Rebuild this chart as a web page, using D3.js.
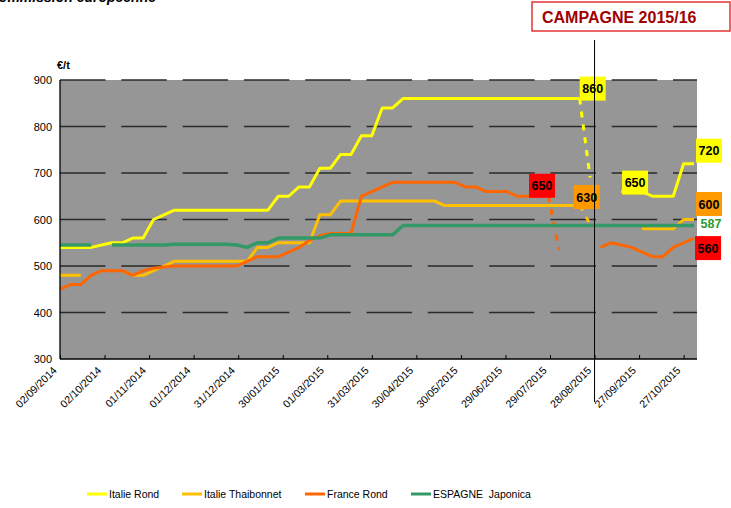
<!DOCTYPE html>
<html>
<head>
<meta charset="utf-8">
<script src="https://cdn.jsdelivr.net/npm/d3@7"></script>
<style>
  body { margin: 0; background: #fff; }
  svg { font-family: "Liberation Sans", Arial, sans-serif; display: block; }
</style>
</head>
<body>
<div id="chart"></div>
<script>
// weekly quotations, €/t
const dates = [
  "02/09/2014","09/09/2014","16/09/2014","23/09/2014","30/09/2014","07/10/2014","14/10/2014","21/10/2014",
  "28/10/2014","04/11/2014","11/11/2014","18/11/2014","25/11/2014","02/12/2014","09/12/2014","16/12/2014",
  "23/12/2014","30/12/2014","06/01/2015","13/01/2015","20/01/2015","27/01/2015","03/02/2015","10/02/2015",
  "17/02/2015","24/02/2015","03/03/2015","10/03/2015","17/03/2015","24/03/2015","31/03/2015","07/04/2015",
  "14/04/2015","21/04/2015","28/04/2015","05/05/2015","12/05/2015","19/05/2015","26/05/2015","02/06/2015",
  "09/06/2015","16/06/2015","23/06/2015","30/06/2015","07/07/2015","14/07/2015","21/07/2015","28/07/2015",
  "04/08/2015","11/08/2015","18/08/2015","25/08/2015","01/09/2015","08/09/2015","15/09/2015","22/09/2015",
  "29/09/2015","06/10/2015","13/10/2015","20/10/2015","27/10/2015","03/11/2015"
];

const italieRond = [
  540,540,540,540,545,550,550,560, 560,600,610,620,620,620,620,620,
  620,620,620,620,620,650,650,670, 670,710,710,740,740,780,780,840,
  840,860,860,860,860,860,860,860, 860,860,860,860,860,860,860,860,
  860,860,860,690,null,null,660,660, 660,650,650,650,720,720
];
const italieThai = [
  480,480,480,null,null,null,490,480, 480,490,500,510,510,510,510,510,
  510,510,510,540,540,550,550,550, 550,610,610,640,640,640,640,640,
  640,640,640,640,640,630,630,630, 630,630,630,630,630,630,630,630,
  630,630,630,590,null,null,null,null, 580,580,580,580,600,600
];
const franceRond = [
  450,460,460,480,490,490,490,480, 490,495,498,500,500,500,500,500,
  500,500,510,520,520,520,530,540, 555,565,570,570,570,650,660,670,
  680,680,680,680,680,680,680,670, 670,660,660,660,650,650,650,650,
  535,null,null,null,540,550,545,540, 530,520,520,540,550,560
];
const espagneJaponica = [
  545,545,545,545,null,545,545,545, 545,545,545,547,547,547,547,547,
  547,545,540,550,550,560,560,560, 560,560,567,567,567,567,567,567,
  567,587,587,587,587,587,587,587, 587,587,587,587,587,587,587,587,
  587,587,587,587,587,587,587,587, 587,587,587,587,587,587
];

// points reached by a dashed (estimated) segment
const dashedPoints = { rond: [51], thai: [51], france: [48], espagne: [] };

const tickDates = ["02/09/2014","02/10/2014","01/11/2014","01/12/2014","31/12/2014","30/01/2015",
  "01/03/2015","31/03/2015","30/04/2015","30/05/2015","29/06/2015","29/07/2015","28/08/2015",
  "27/09/2015","27/10/2015"];
const yTicks = [300, 400, 500, 600, 700, 800, 900];
const campaignStart = "28/08/2015";

const series = [
  { key: "rond", name: "Italie Rond", values: italieRond, color: "#FFFF00", width: 3 },
  { key: "thai", name: "Italie Thaibonnet", values: italieThai, color: "#FFC000", width: 3 },
  { key: "france", name: "France Rond", values: franceRond, color: "#FF6600", width: 3 },
  { key: "espagne", name: "ESPAGNE  Japonica", values: espagneJaponica, color: "#339966", width: 3.5 }
];

const labels = [
  { key: "rond", i: 50, text: "860", fill: "#FFFF00", dx: 13, dy: -10 },
  { key: "thai", i: 50, text: "630", fill: "#FF9900", dx: 7, dy: -8.5 },
  { key: "france", i: 47, text: "650", fill: "#FF0000", dx: -6.5, dy: -10.5 },
  { key: "rond", i: 56, text: "650", fill: "#FFFF00", dx: -7, dy: -9 },
  { key: "rond", i: 61, text: "720", fill: "#FFFF00", dx: 15, dy: -13 },
  { key: "thai", i: 61, text: "600", fill: "#FF9900", dx: 15, dy: -15.5 },
  { key: "france", i: 61, text: "560", fill: "#FF0000", dx: 14, dy: 10 },
  { key: "espagne", i: 61, text: "587", fill: null, dx: 17, dy: -2 }
];

const parse = d3.utcParse("%d/%m/%Y");
const fmt = d3.utcFormat("%d/%m/%Y");

const W = 731, H = 508;
const margin = { left: 60, right: 697, top: 80, bottom: 359 };

const svg = d3.select("#chart").append("svg")
  .attr("width", W).attr("height", H);

// title, cut at the top edge as in the source
svg.append("text")
  .attr("x", 156).attr("y", 1.5)
  .attr("text-anchor", "end")
  .style("font-size", "14px").style("font-weight", "bold").style("font-style", "italic")
  .text("Commission européenne");

// campaign box
svg.append("rect")
  .attr("x", 532).attr("y", 2).attr("width", 198).attr("height", 29)
  .attr("fill", "#fff").attr("stroke", "#E53333").attr("stroke-width", 1.5);
svg.append("text")
  .attr("x", 542).attr("y", 23)
  .style("font-size", "16px").style("font-weight", "bold").attr("fill", "#A00000")
  .text("CAMPAGNE 2015/16");

let x = d3.scaleUtc()
  .domain([parse(dates[0]), d3.utcDay.offset(parse(dates[0]), 429)])
  .range([margin.left, margin.right]);
let y = d3.scaleLinear().domain([300, 900]).range([margin.bottom, margin.top]);

// plot area
svg.append("rect")
  .attr("x", margin.left).attr("y", margin.top)
  .attr("width", margin.right - margin.left).attr("height", margin.bottom - margin.top)
  .attr("fill", "#969696");

// dashed grid
svg.append("g").selectAll("line")
  .data(yTicks.filter(d => d > 300))
  .enter().append("line")
    .attr("x1", margin.left).attr("x2", margin.right)
    .attr("y1", d => y(d)).attr("y2", d => y(d))
    .attr("stroke", "#2a2a2a").attr("stroke-width", 1.5)
    .attr("stroke-dasharray", "45.5,15.8");

// series
const line = d3.line()
  .defined(d => d.v != null)
  .x(d => x(d.date)).y(d => y(d.v));

series.forEach(s => {
  const pts = s.values.map((v, i) => ({ date: parse(dates[i]), v: v, i: i }));
  const est = dashedPoints[s.key];
  const solid = pts.map(p => est.includes(p.i) ? { date: p.date, v: null } : p);
  svg.append("path")
    .attr("d", line(solid))
    .attr("fill", "none").attr("stroke", s.color)
    .attr("stroke-width", s.width).attr("stroke-linejoin", "round");
  est.forEach(i => {
    svg.append("path")
      .attr("d", line([pts[i - 1], pts[i]]))
      .attr("fill", "none").attr("stroke", s.color)
      .attr("stroke-width", s.width).attr("stroke-dasharray", "6,7");
  });
});

// axes
svg.append("line")
  .attr("x1", margin.left).attr("x2", margin.left)
  .attr("y1", margin.top).attr("y2", margin.bottom)
  .attr("stroke", "#000").attr("stroke-width", 1.3);

const xAxis = svg.append("g")
  .attr("transform", "translate(0," + margin.bottom + ")")
  .call(d3.axisBottom(x)
    .tickValues(tickDates.map(parse))
    .tickSize(-4)
    .tickFormat(fmt));
xAxis.select(".domain").attr("stroke-width", 1.5)
  .attr("d", "M" + margin.left + ",0H" + margin.right);
xAxis.selectAll("text")
  .attr("text-anchor", "end")
  .attr("dy", null).attr("y", 0)
  .attr("transform", "translate(-3,12) rotate(-45)")
  .style("font-size", "10.6px").style("font-family", "'Liberation Sans', Arial, sans-serif");

svg.append("g").selectAll("text")
  .data(yTicks)
  .enter().append("text")
    .attr("x", 52).attr("y", d => y(d) + 4)
    .attr("text-anchor", "end")
    .style("font-size", "11px")
    .text(d => d);

svg.append("text")
  .attr("x", 57).attr("y", 69)
  .style("font-size", "11px").style("font-weight", "bold")
  .text("€/t");

// data labels
labels.forEach(l => {
  const s = series.find(d => d.key === l.key);
  const cx = x(parse(dates[l.i])) + l.dx;
  const cy = y(s.values[l.i]) + l.dy;
  if (l.fill) {
    svg.append("rect")
      .attr("x", cx - 13).attr("y", cy - 12).attr("width", 26).attr("height", 24)
      .attr("fill", l.fill);
  }
  svg.append("text")
    .attr("x", cx).attr("y", cy + 4.5)
    .attr("text-anchor", "middle")
    .style("font-size", "12.5px").style("font-weight", "bold")
    .attr("fill", l.fill ? "#000" : "#2E9A2E")
    .text(l.text);
});

// campaign separator
svg.append("line")
  .attr("x1", x(parse(campaignStart))).attr("x2", x(parse(campaignStart)))
  .attr("y1", 40).attr("y2", 402)
  .attr("stroke", "#000").attr("stroke-width", 1);

// legend
const legendX = [87, 182, 305, 411];
const legend = svg.append("g").selectAll("g")
  .data(series)
  .enter().append("g")
    .attr("transform", (d, i) => "translate(" + legendX[i] + ",494)");
legend.append("line")
  .attr("x1", 0).attr("x2", 20)
  .attr("stroke", d => d.color).attr("stroke-width", 3);
legend.append("text")
  .attr("x", 22).attr("y", 4)
  .style("font-size", "10.5px").style("white-space", "pre")
  .text(d => d.name);
</script>
</body>
</html>
